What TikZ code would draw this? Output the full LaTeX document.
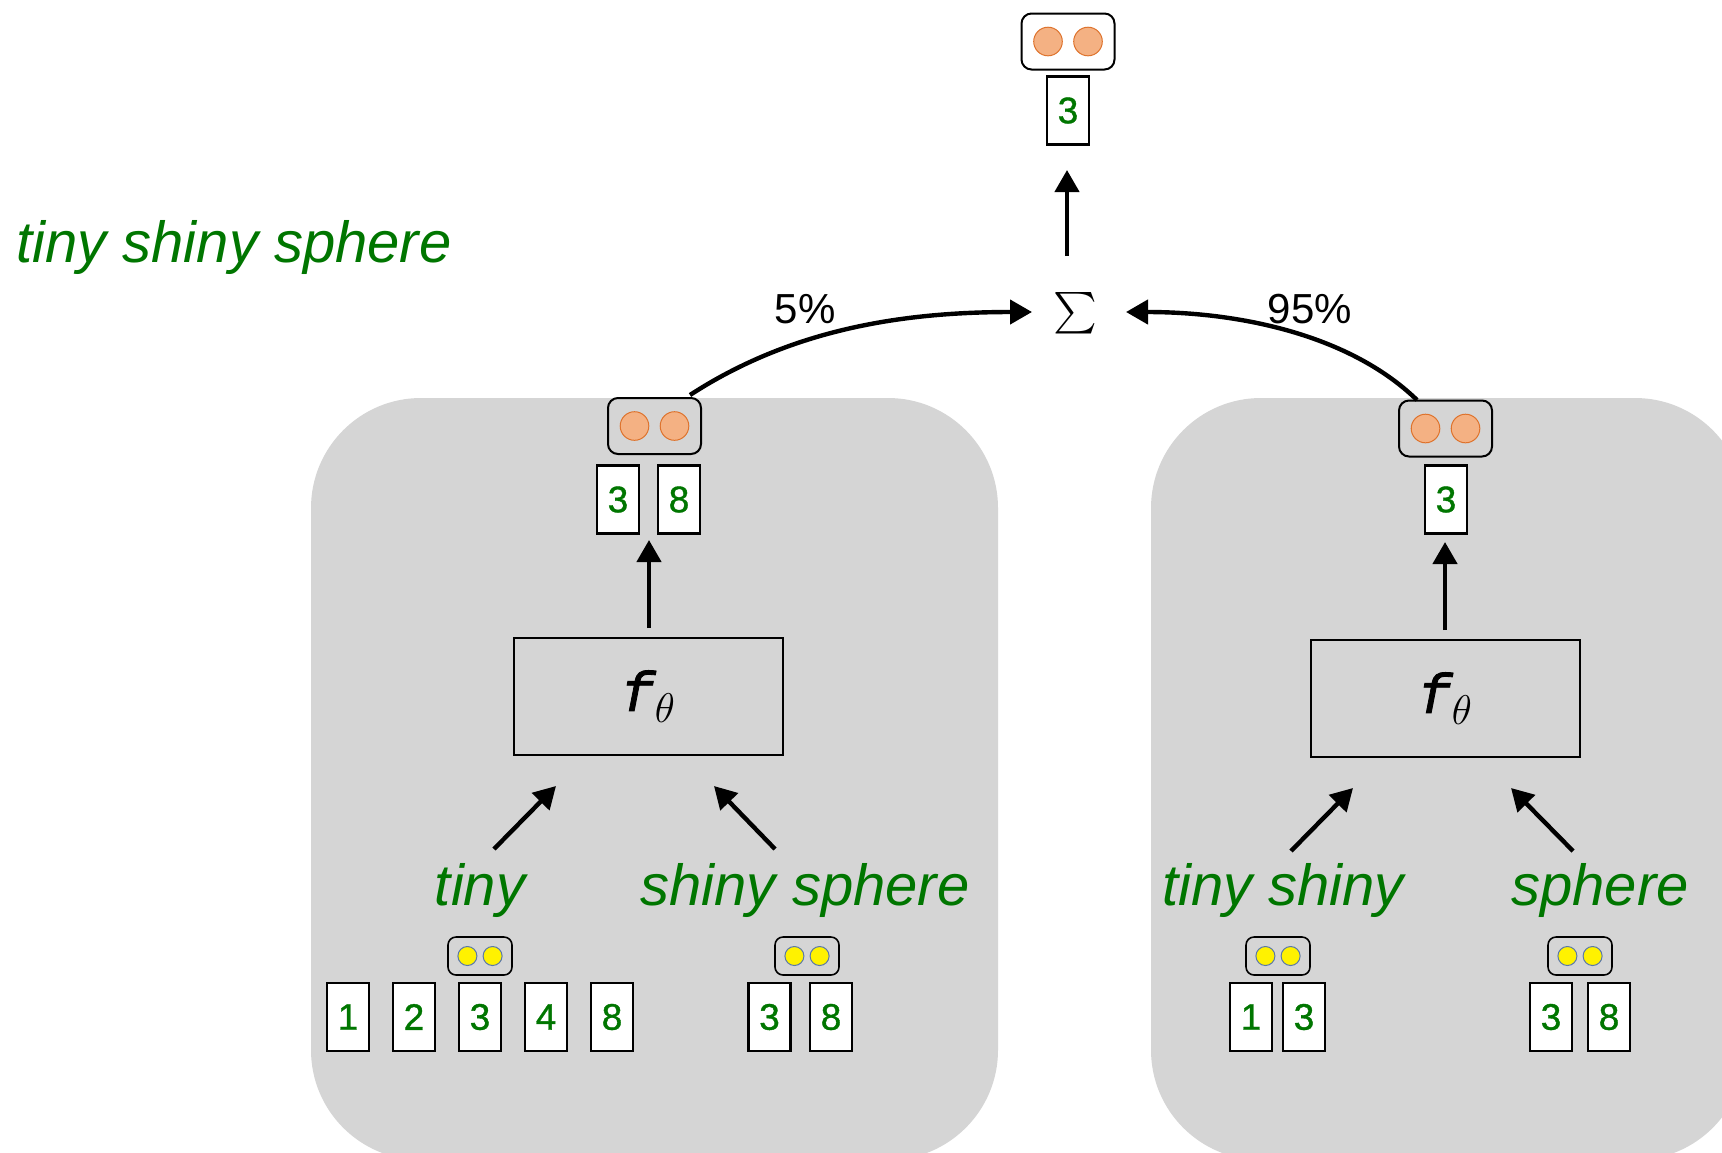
\documentclass[tikz,border=0pt]{standalone}
\usepackage{amsmath}
\usepackage{fontspec}
\setmainfont{Liberation Sans}
\newfontfamily\codefont[FakeBold=1.5]{Liberation Mono}
\newfontfamily\digitfont[FakeBold=1]{Liberation Sans}
\usetikzlibrary{arrows.meta}
\definecolor{panelgray}{RGB}{213,213,213}
\definecolor{txtgreen}{RGB}{0,118,0}
\definecolor{peach}{RGB}{244,177,131}
\definecolor{peachline}{RGB}{222,115,45}
\definecolor{dotline}{RGB}{90,120,170}
\tikzset{
  panel/.style={fill=panelgray, rounded corners=55pt},
  tok/.style={draw=black, line width=1.2pt, fill=white, minimum width=21pt,
    minimum height=34pt, inner sep=0pt, text=txtgreen,
    font=\digitfont\fontsize{18.5}{22}\selectfont},
  bigbox/.style={draw=black, line width=1pt, inner sep=0pt,
    minimum width=134.5pt, minimum height=58.5pt},
  outbox/.style={draw=black, line width=1pt, rounded corners=5pt, inner sep=0pt,
    minimum width=46.5pt, minimum height=28pt},
  inbox/.style={draw=black, line width=0.8pt, rounded corners=4pt, inner sep=0pt,
    minimum width=32pt, minimum height=19pt},
  peachdot/.style={circle, fill=peach, draw=peachline, line width=0.5pt,
    minimum size=14.3pt, inner sep=0pt},
  yeldot/.style={circle, fill=yellow, draw=dotline, line width=0.5pt,
    minimum size=9.5pt, inner sep=0pt},
  word/.style={text=txtgreen, font=\fontsize{29}{34}\selectfont\itshape,
    inner sep=0pt, anchor=base},
  pct/.style={font=\fontsize{21}{25}\selectfont, inner sep=0pt, anchor=base},
  fun/.style={font=\fontsize{28}{32}\selectfont},
  arr/.style={line width=2.2pt, -{Triangle[length=11pt,width=12pt]}},
}
% model symbol: slanted monospace f with subscript theta
\newcommand\ftheta{{\codefont\itshape f}$_{\theta}$}
% output/embedding boxes: frame plus two dots
\newcommand\peachpair[3]{%
  \node[outbox] (#1) at (#2,#3) {};
  \node[peachdot] (#1a) at ([xshift=-10pt]#1.center) {};
  \node[peachdot] (#1b) at ([xshift=10pt]#1.center) {};}
\newcommand\yelpair[3]{%
  \node[inbox] (#1) at (#2,#3) {};
  \node[yeldot] (#1a) at ([xshift=-6.3pt]#1.center) {};
  \node[yeldot] (#1b) at ([xshift=6.3pt]#1.center) {};}
\begin{document}
\begin{tikzpicture}[x=0.5pt,y=-0.5pt]
\clip (0,0) rectangle (1722,1152);
\fill[white] (0,0) rectangle (1722,1152);

% the two grey panels
\path[panel] (311,398) rectangle (998,1160);
\path[panel] (1151,398) rectangle (1745,1160);

% title phrase
\node[word, anchor=base west] (title) at (16,262) {tiny shiny sphere};

% ---- top: sum and final output
\node[inner sep=0pt] (sum) at (1075,313) {\fontsize{21}{25}\selectfont$\textstyle\sum$};
\peachpair{topout}{1068}{41.5}
\node[tok] (top3) at (1068,110.5) {3};
\coordinate (sumup) at (1067,256);
\coordinate (sumtip) at (1067,170);
\draw[arr] (sumup) -- (sumtip);

% ---- left panel
\peachpair{lout}{654.5}{426}
\node[tok] (lo3) at (618,499.5) {3};
\node[tok] (lo8) at (679,499.5) {8};
\node[bigbox, fun] (lf) at (648.5,696.5) {\ftheta};
\coordinate (lfup) at (649,628);
\coordinate (lftip) at (649,540);
\draw[arr] (lfup) -- (lftip);

\node[word] (ltiny) at (480,905) {tiny};
\node[word] (lshsp) at (805,905) {shiny sphere};
\coordinate (la1) at (494,849); \coordinate (la2) at (556,786);
\coordinate (lb1) at (775,849); \coordinate (lb2) at (714,786);
\draw[arr] (la1) -- (la2);
\draw[arr] (lb1) -- (lb2);

\yelpair{ly1}{480}{956}
\foreach \n/\x in {1/348,2/414,3/480,4/546,8/612}
  \node[tok] (lt\n) at (\x,1017) {\n};
\yelpair{ly2}{807}{956}
\node[tok] (ls3) at (769.5,1017) {3};
\node[tok] (ls8) at (831,1017) {8};

% ---- right panel
\peachpair{rout}{1445.5}{428.5}
\node[tok] (ro3) at (1446,499.5) {3};
\node[bigbox, fun] (rf) at (1445.5,698.5) {\ftheta};
\coordinate (rfup) at (1445,630);
\coordinate (rftip) at (1445,542);
\draw[arr] (rfup) -- (rftip);

\node[word] (rtish) at (1283,905) {tiny shiny};
\node[word] (rsph) at (1600,905) {sphere};
\coordinate (ra1) at (1291,851); \coordinate (ra2) at (1353,788);
\coordinate (rb1) at (1573,851); \coordinate (rb2) at (1511,788);
\draw[arr] (ra1) -- (ra2);
\draw[arr] (rb1) -- (rb2);

\yelpair{ry1}{1278}{956}
\node[tok] (rt1) at (1251,1017) {1};
\node[tok] (rt3) at (1304,1017) {3};
\yelpair{ry2}{1580}{956}
\node[tok] (rs3) at (1551,1017) {3};
\node[tok] (rs8) at (1609,1017) {8};

% ---- weighted paths into the sum
\coordinate (lstart) at (690,395);
\coordinate (lend) at (1032,312);
\coordinate (rstart) at (1417,400);
\coordinate (rend) at (1126,312);
\draw[arr] (lstart) .. controls (790,330) and (900,312) .. (lend);
\draw[arr] (rstart) .. controls (1350,335) and (1240,312) .. (rend);
\node[pct] (p5) at (805,323) {5\%};
\node[pct] (p95) at (1310,323) {95\%};
\end{tikzpicture}
\end{document}
